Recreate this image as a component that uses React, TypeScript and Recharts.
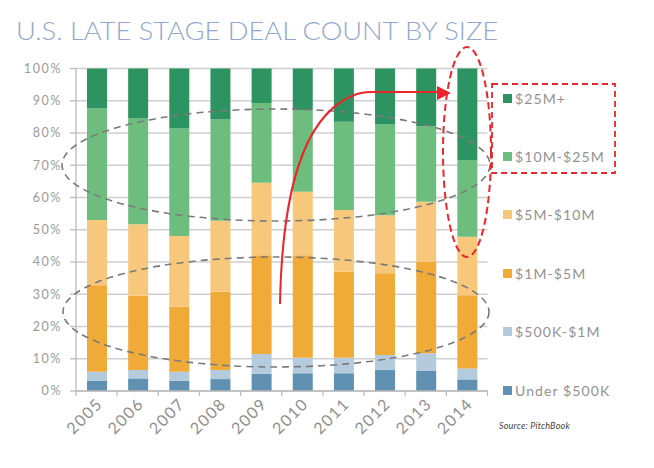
import React from 'react';
import { BarChart, Bar, XAxis, YAxis, CartesianGrid, Legend } from 'recharts';

const years = ['2005', '2006', '2007', '2008', '2009', '2010', '2011', '2012', '2013', '2014'];
const under500K = [3.1, 3.9, 3.2, 3.7, 5.3, 5.5, 5.5, 6.5, 6.2, 3.6];
const k500to1M = [2.9, 2.6, 2.8, 2.8, 6.2, 4.8, 4.8, 4.7, 5.5, 3.4];
const m1to5 = [26.8, 23.0, 20.1, 24.3, 30.6, 31.8, 26.7, 25.3, 28.4, 22.7];
const m5to10 = [20.2, 22.2, 22.0, 22.0, 22.5, 19.7, 19.1, 18.0, 18.6, 18.1];
const m10to25 = [34.6, 32.8, 33.3, 31.4, 24.7, 25.3, 27.4, 28.1, 23.4, 23.8];
const m25plus = [12.4, 15.5, 18.6, 15.8, 10.7, 12.9, 16.5, 17.4, 17.9, 28.4];
const yTicks = [0, 10, 20, 30, 40, 50, 60, 70, 80, 90, 100];

const series = [
  { key: 'under', name: 'Under $500K', color: '#6090b2' },
  { key: 'k500', name: '$500K-$1M', color: '#b3cbdd' },
  { key: 'm1', name: '$1M-$5M', color: '#f0aa38' },
  { key: 'm5', name: '$5M-$10M', color: '#f7c77c' },
  { key: 'm10', name: '$10M-$25M', color: '#6dbe7e' },
  { key: 'm25', name: '$25M+', color: '#2d9360' },
];
const seriesNames = series.map((s) => s.name);

const data = years.map((y, i) => ({
  year: y,
  under: under500K[i],
  k500: k500to1M[i],
  m1: m1to5[i],
  m5: m5to10[i],
  m10: m10to25[i],
  m25: m25plus[i],
}));

const W = 654;
const H = 468;
const PLOT_LEFT = 76;
const PLOT_RIGHT = 487.5;
const BAND = (PLOT_RIGHT - PLOT_LEFT) / years.length;
const FONT = 'Lato, "DejaVu Sans", sans-serif';

const XTick = (props: any) => {
  const { x, y, payload, index } = props;
  return (
    <g>
      {index === 0 && (
        <line x1={x - BAND / 2} y1={y} x2={x - BAND / 2} y2={y + 5} stroke="#bbb" strokeWidth={1.2} />
      )}
      <line x1={x + BAND / 2} y1={y} x2={x + BAND / 2} y2={y + 5} stroke="#bbb" strokeWidth={1.2} />
      <text
        x={0}
        y={0}
        transform={`translate(${x + 7},${y + 14}) rotate(-45)`}
        textAnchor="end"
        fontSize={16}
        letterSpacing={1.4}
        fill="#8f8f8f"
        fontFamily={FONT}
      >
        {payload.value}
      </text>
    </g>
  );
};

const LegendContent = (props: any) => {
  const items = (props.payload || [])
    .slice()
    .sort((a: any, b: any) => seriesNames.indexOf(b.value) - seriesNames.indexOf(a.value));
  return (
    <div style={{ position: 'relative', width: 150, height: 320 }}>
      {items.map((it: any, i: number) => (
        <div
          key={it.value}
          style={{
            position: 'absolute',
            left: 0,
            top: i * 58.4,
            height: 16,
            display: 'flex',
            alignItems: 'center',
            fontFamily: FONT,
            fontSize: 14,
            letterSpacing: 1.1,
            color: '#929292',
            whiteSpace: 'nowrap',
          }}
        >
          <span style={{ display: 'inline-block', width: 9, height: 9, background: it.color, marginRight: 3 }} />
          {it.value}
        </div>
      ))}
    </div>
  );
};

export default function App() {
  return (
    <div style={{ position: 'fixed', left: 0, top: 0, width: W, height: H, background: '#fff' }}>
      <BarChart
        width={W}
        height={H}
        data={data}
        margin={{ top: 68.5, right: W - PLOT_RIGHT, bottom: 0, left: 0 }}
        barSize={20}
      >
        <CartesianGrid vertical={false} stroke="#cfcfcf" strokeWidth={1.3} />
        <XAxis
          dataKey="year"
          height={77}
          axisLine={{ stroke: '#bbb', strokeWidth: 1.3 }}
          tickLine={false}
          tickSize={0}
          tickMargin={0}
          interval={0}
          tick={<XTick />}
        />
        <YAxis
          width={PLOT_LEFT}
          domain={[0, 100]}
          ticks={yTicks}
          interval={0}
          tickFormatter={(v: number) => `${v}%`}
          axisLine={{ stroke: '#bbb', strokeWidth: 1.3 }}
          tickLine={{ stroke: '#bbb', strokeWidth: 1.3 }}
          tickSize={6}
          tickMargin={8}
          tick={{ fontSize: 12.5, fill: '#9a9a9a', fontFamily: FONT, letterSpacing: 1.6 }}
        />
        <Legend
          layout="vertical"
          align="center"
          verticalAlign="middle"
          content={<LegendContent />}
          wrapperStyle={{ position: 'absolute', left: 503, top: 90, width: 150, height: 320 }}
        />
        {series.map((s) => (
          <Bar key={s.key} dataKey={s.key} name={s.name} stackId="a" fill={s.color} isAnimationActive={false} />
        ))}
      </BarChart>
      <svg
        width={W}
        height={H}
        style={{ position: 'absolute', left: 0, top: 0, pointerEvents: 'none' }}
      >
        <text
          x={16}
          y={40}
          fontSize={25}
          fontWeight={300}
          fill="#93a8cc"
          fontFamily={FONT}
          textLength={482}
          lengthAdjust="spacingAndGlyphs"
        >
          U.S. LATE STAGE DEAL COUNT BY SIZE
        </text>
        <ellipse cx={276} cy={165} rx={214} ry={56} fill="none" stroke="#7a7a7a" strokeWidth={1.6} strokeDasharray="7 5" />
        <ellipse cx={276} cy={312} rx={213} ry={55} fill="none" stroke="#7a7a7a" strokeWidth={1.6} strokeDasharray="7 5" />
        <ellipse cx={467} cy={152} rx={24} ry={105} fill="none" stroke="#e8262b" strokeWidth={2} strokeDasharray="7 4" />
        <rect x={492} y={84} width={123} height={89} fill="none" stroke="#e8262b" strokeWidth={1.8} strokeDasharray="6 4" />
        <path d="M280,304 C282,200 300,118 352,96 Q360,92 372,92 L438,92" fill="none" stroke="#e8262b" strokeWidth={2} />
        <polygon points="437,86 451,93 437,100" fill="#e8262b" />
        <text x={499} y={429} fontSize={9} fontStyle="italic" fill="#444" fontFamily={FONT} letterSpacing={0.2}>
          Source: PitchBook
        </text>
      </svg>
    </div>
  );
}
